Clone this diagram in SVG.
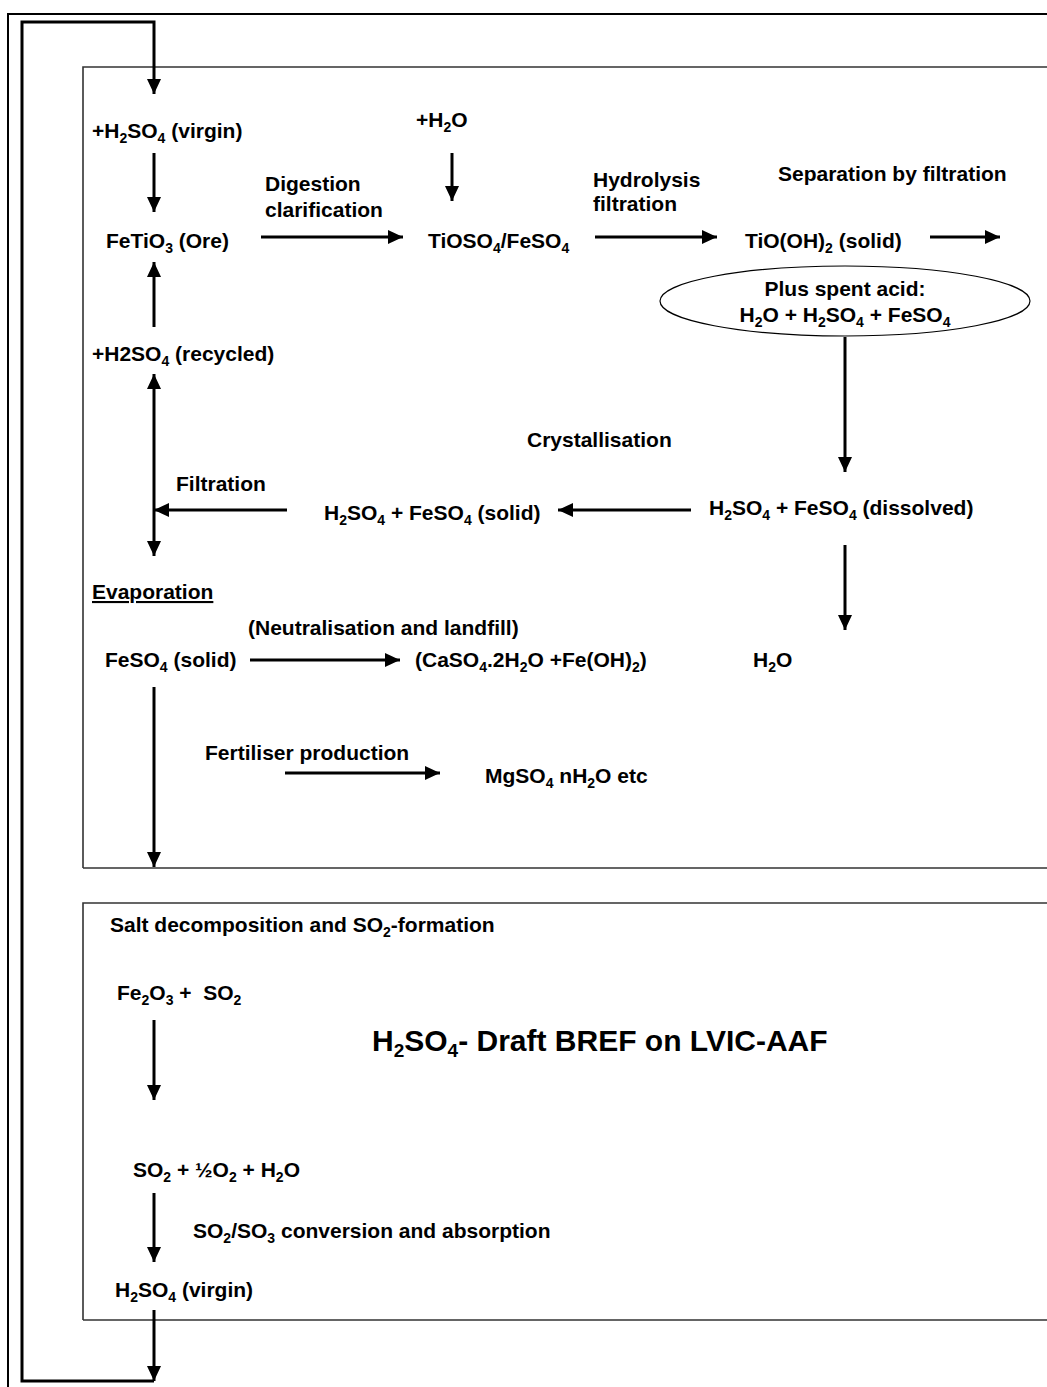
<svg xmlns="http://www.w3.org/2000/svg" width="1047" height="1387" viewBox="0 0 1047 1387">
<defs>
<style>
text{font-family:"Liberation Sans",Arial,sans-serif;font-weight:bold;font-size:21px;fill:#000}
.s{font-size:14px}
.t{font-size:30px}
.c{stroke:#000;stroke-width:3;fill:none}
.box{fill:none;stroke:#333;stroke-width:1.6}
</style>
<marker id="ah" markerUnits="userSpaceOnUse" markerWidth="15" markerHeight="15" viewBox="0 0 15 14" refX="15" refY="7" orient="auto-start-reverse">
<path d="M0,0 L15,7 L0,14 z" fill="#000"/>
</marker>
</defs>
<rect width="1047" height="1387" fill="#fff"/>
<g id="frame">
<path d="M8,1387 V14 H1047" fill="none" stroke="#000" stroke-width="2"/>
<path class="box" d="M83,868 V67 H1047 M1047,868 H83"/>
<path class="box" d="M83,1320 V903 H1047 M1047,1320 H83"/>
</g>
<g id="connectors">
<path class="c" d="M154,1381 H22 V22 H154 V94" marker-end="url(#ah)"/>
<path class="c" d="M154,1310 V1381" marker-end="url(#ah)"/>
<path class="c" d="M154,153 V212" marker-end="url(#ah)"/>
<path class="c" d="M154,327 V262" marker-end="url(#ah)"/>
<path class="c" d="M261,237 H403" marker-end="url(#ah)"/>
<path class="c" d="M452,153 V201" marker-end="url(#ah)"/>
<path class="c" d="M595,237 H717" marker-end="url(#ah)"/>
<path class="c" d="M930,237 H1000" marker-end="url(#ah)"/>
<path class="c" d="M845,337 V472" marker-end="url(#ah)"/>
<path class="c" d="M154,374 V556" marker-start="url(#ah)" marker-end="url(#ah)"/>
<path class="c" d="M287,510 H154" marker-end="url(#ah)"/>
<path class="c" d="M691,510 H558" marker-end="url(#ah)"/>
<path class="c" d="M845,545 V630" marker-end="url(#ah)"/>
<path class="c" d="M250,660 H400" marker-end="url(#ah)"/>
<path class="c" d="M154,687 V867" marker-end="url(#ah)"/>
<path class="c" d="M285,773 H440" marker-end="url(#ah)"/>
<path class="c" d="M154,1020 V1100" marker-end="url(#ah)"/>
<path class="c" d="M154,1193 V1262" marker-end="url(#ah)"/>
</g>
<g id="n-h2so4-virgin"><text x="92" y="138">+H<tspan class="s" dy="5">2</tspan><tspan dy="-5">SO</tspan><tspan class="s" dy="5">4</tspan><tspan dy="-5"> (virgin)</tspan></text></g>
<g id="n-ore"><text x="106" y="248">FeTiO<tspan class="s" dy="5">3</tspan><tspan dy="-5"> (Ore)</tspan></text></g>
<g id="l-digestion"><text x="265" y="191">Digestion</text><text x="265" y="217">clarification</text></g>
<g id="n-h2o"><text x="416" y="127">+H<tspan class="s" dy="5">2</tspan><tspan dy="-5">O</tspan></text></g>
<g id="n-tioso4"><text x="428" y="248">TiOSO<tspan class="s" dy="5">4</tspan><tspan dy="-5">/FeSO</tspan><tspan class="s" dy="5">4</tspan></text></g>
<g id="l-hydrolysis"><text x="593" y="187">Hydrolysis</text><text x="593" y="211">filtration</text></g>
<g id="l-separation"><text x="778" y="181">Separation by filtration</text></g>
<g id="n-tioh"><text x="745" y="248">TiO(OH)<tspan class="s" dy="5">2</tspan><tspan dy="-5"> (solid)</tspan></text></g>
<g id="n-spent">
<ellipse cx="845" cy="301" rx="185" ry="35" fill="#fff" stroke="#000" stroke-width="1.2"/>
<text x="845" y="296" text-anchor="middle">Plus spent acid:</text>
<text x="845" y="322" text-anchor="middle">H<tspan class="s" dy="5">2</tspan><tspan dy="-5">O + H</tspan><tspan class="s" dy="5">2</tspan><tspan dy="-5">SO</tspan><tspan class="s" dy="5">4</tspan><tspan dy="-5"> + FeSO</tspan><tspan class="s" dy="5">4</tspan></text>
</g>
<g id="n-recycled"><text x="92" y="361">+H2SO<tspan class="s" dy="5">4</tspan><tspan dy="-5"> (recycled)</tspan></text></g>
<g id="l-cryst"><text x="527" y="447">Crystallisation</text></g>
<g id="l-filtration"><text x="176" y="491">Filtration</text></g>
<g id="n-solid"><text x="324" y="520">H<tspan class="s" dy="5">2</tspan><tspan dy="-5">SO</tspan><tspan class="s" dy="5">4</tspan><tspan dy="-5"> + FeSO</tspan><tspan class="s" dy="5">4</tspan><tspan dy="-5"> (solid)</tspan></text></g>
<g id="n-dissolved"><text x="709" y="515">H<tspan class="s" dy="5">2</tspan><tspan dy="-5">SO</tspan><tspan class="s" dy="5">4</tspan><tspan dy="-5"> + FeSO</tspan><tspan class="s" dy="5">4</tspan><tspan dy="-5"> (dissolved)</tspan></text></g>
<g id="l-evap"><text x="92" y="599" text-decoration="underline">Evaporation</text></g>
<g id="l-neutral"><text x="248" y="635">(Neutralisation and landfill)</text></g>
<g id="n-feso4"><text x="105" y="667">FeSO<tspan class="s" dy="5">4</tspan><tspan dy="-5"> (solid)</tspan></text></g>
<g id="n-caso4"><text x="415" y="667">(CaSO<tspan class="s" dy="5">4</tspan><tspan dy="-5">.2H</tspan><tspan class="s" dy="5">2</tspan><tspan dy="-5">O +Fe(OH)</tspan><tspan class="s" dy="5">2</tspan><tspan dy="-5">)</tspan></text></g>
<g id="n-h2o-out"><text x="753" y="667">H<tspan class="s" dy="5">2</tspan><tspan dy="-5">O</tspan></text></g>
<g id="l-fert"><text x="205" y="760">Fertiliser production</text></g>
<g id="n-mgso4"><text x="485" y="783">MgSO<tspan class="s" dy="5">4</tspan><tspan dy="-5"> nH</tspan><tspan class="s" dy="5">2</tspan><tspan dy="-5">O etc</tspan></text></g>
<g id="l-salt"><text x="110" y="932">Salt decomposition and SO<tspan class="s" dy="5">2</tspan><tspan dy="-5">-formation</tspan></text></g>
<g id="n-fe2o3"><text x="117" y="1000" xml:space="preserve">Fe<tspan class="s" dy="5">2</tspan><tspan dy="-5">O</tspan><tspan class="s" dy="5">3</tspan><tspan dy="-5"> +  SO</tspan><tspan class="s" dy="5">2</tspan></text></g>
<g id="title"><text class="t" x="372" y="1051">H<tspan font-size="19" dy="6">2</tspan><tspan dy="-6">SO</tspan><tspan font-size="19" dy="6">4</tspan><tspan dy="-6">- Draft BREF on LVIC-AAF</tspan></text></g>
<g id="n-so2"><text x="133" y="1177">SO<tspan class="s" dy="5">2</tspan><tspan dy="-5"> + ½O</tspan><tspan class="s" dy="5">2</tspan><tspan dy="-5"> + H</tspan><tspan class="s" dy="5">2</tspan><tspan dy="-5">O</tspan></text></g>
<g id="l-conv"><text x="193" y="1238">SO<tspan class="s" dy="5">2</tspan><tspan dy="-5">/SO</tspan><tspan class="s" dy="5">3</tspan><tspan dy="-5"> conversion and absorption</tspan></text></g>
<g id="n-h2so4-out"><text x="115" y="1297">H<tspan class="s" dy="5">2</tspan><tspan dy="-5">SO</tspan><tspan class="s" dy="5">4</tspan><tspan dy="-5"> (virgin)</tspan></text></g>
</svg>
